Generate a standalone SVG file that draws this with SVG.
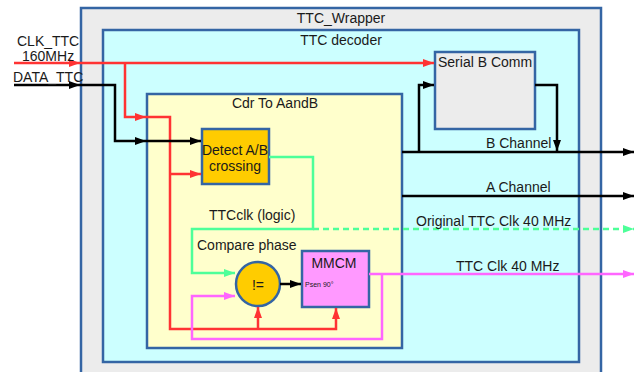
<svg xmlns="http://www.w3.org/2000/svg" width="636" height="372" viewBox="0 0 636 372">
<style>
.box{stroke:#3465a4;stroke-width:2.5}
text{font-family:"Liberation Sans",Arial,sans-serif;font-size:14px;fill:#1a1a1a}
.c{text-anchor:middle}
.ln{fill:none;stroke-width:2.5}
.r{stroke:#ff3333}.k{stroke:#000}.g{stroke:#4dff99}.m{stroke:#ff66ff}
</style>
<defs>
<marker id="ar" markerUnits="userSpaceOnUse" markerWidth="12" markerHeight="10" refX="11" refY="5" orient="auto"><path d="M0,1 L11,5 L0,9 Z" fill="#ff3333"/></marker>
<marker id="ak" markerUnits="userSpaceOnUse" markerWidth="12" markerHeight="10" refX="11" refY="5" orient="auto"><path d="M0,1 L11,5 L0,9 Z" fill="#000"/></marker>
<marker id="ag" markerUnits="userSpaceOnUse" markerWidth="12" markerHeight="10" refX="11" refY="5" orient="auto"><path d="M0,1 L11,5 L0,9 Z" fill="#4dff99"/></marker>
<marker id="am" markerUnits="userSpaceOnUse" markerWidth="12" markerHeight="10" refX="11" refY="5" orient="auto"><path d="M0,1 L11,5 L0,9 Z" fill="#ff66ff"/></marker>
</defs>
<g id="wrapper"><rect class="box" x="81" y="8" width="520" height="380" fill="#ececec"/><text class="c" x="341" y="23">TTC_Wrapper</text></g>
<g id="decoder"><rect class="box" x="103" y="30" width="476" height="332" fill="#ccffff"/><text class="c" x="341" y="45">TTC decoder</text></g>
<g id="cdr"><rect class="box" x="147" y="94" width="255" height="254" fill="#ffffcc"/><text class="c" x="275" y="108">Cdr To AandB</text></g>
<g id="serialb"><rect class="box" x="435" y="52" width="100" height="77" fill="#ececec"/><text x="438" y="67">Serial B Comm</text></g>
<g id="detect"><rect class="box" x="202" y="129" width="67" height="55" fill="#ffcc00"/><text class="c" x="235" y="155">Detect A/B</text><text class="c" x="235" y="171">crossing</text></g>
<g id="compare"><circle class="box" cx="258" cy="284" r="22" fill="#ffcc00"/><text class="c" x="258" y="290">!=</text></g>
<g id="mmcm"><rect class="box" x="302" y="251" width="67" height="56" fill="#ff99ff"/><text class="c" x="334" y="268">MMCM</text><text x="305" y="287" style="font-size:7px">Psen 90°</text></g>
<g id="connectors">
<path class="ln r" d="M14,63 H80" marker-end="url(#ar)"/>
<path class="ln r" d="M80,63 H434" marker-end="url(#ar)"/>
<path class="ln r" d="M125,63 V117 H146" marker-end="url(#ar)"/>
<path class="ln r" d="M146,117 H170 V329 H336 V308" marker-end="url(#ar)"/>
<path class="ln r" d="M170,174 H201" marker-end="url(#ar)"/>
<path class="ln r" d="M258,329 V307" marker-end="url(#ar)"/>
<path class="ln k" d="M14,85 H80" marker-end="url(#ak)"/>
<path class="ln k" d="M80,85 H115 V141 H146" marker-end="url(#ak)"/>
<path class="ln k" d="M146,141 H201" marker-end="url(#ak)"/>
<path class="ln k" d="M402,152 H634" marker-end="url(#ak)"/>
<path class="ln k" d="M419,152 V85 H434" marker-end="url(#ak)"/>
<path class="ln k" d="M535,85 H557 V151" marker-end="url(#ak)"/>
<path class="ln k" d="M402,196 H634" marker-end="url(#ak)"/>
<path class="ln k" d="M280,284 H301" marker-end="url(#ak)"/>
<path class="ln g" d="M269,157 H313 V229 H192 V273 H235" marker-end="url(#ag)"/>
<path class="ln g" d="M313,229 H634" stroke-dasharray="6,4" marker-end="url(#ag)"/>
<path class="ln m" d="M369,274 H634" marker-end="url(#am)"/>
<path class="ln m" d="M382,274 V339 H192 V296 H235" marker-end="url(#am)"/>
</g>
<g id="labels">
<text x="17" y="46">CLK_TTC</text>
<text x="22" y="61">160MHz</text>
<text x="13" y="82">DATA_TTC</text>
<text x="486" y="148">B Channel</text>
<text x="486" y="192">A Channel</text>
<text x="416" y="226">Original TTC Clk 40 MHz</text>
<text x="456" y="271">TTC Clk 40 MHz</text>
<text x="209" y="220">TTCclk (logic)</text>
<text x="197" y="250">Compare phase</text>
</g>
</svg>
